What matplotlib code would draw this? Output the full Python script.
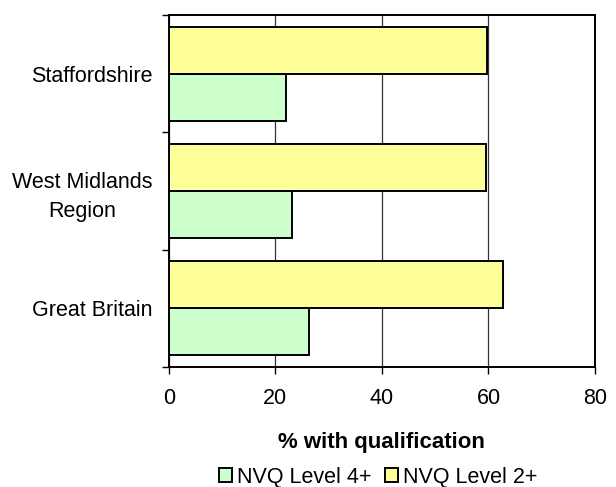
import matplotlib
matplotlib.use("Agg")
import matplotlib.pyplot as plt
import numpy as np

categories = ["Great Britain", "West Midlands\nRegion", "Staffordshire"]
nvq4 = [26.4, 23.1, 22.0]
nvq2 = [62.8, 59.5, 59.8]
series_labels = ["NVQ Level 4+", "NVQ Level 2+"]
xticks = [0, 20, 40, 60, 80]

plt.rcParams['font.family'] = ['Liberation Sans', 'DejaVu Sans']

fig = plt.figure(figsize=(6.16, 4.87), dpi=100)
ax = fig.add_axes([0.274, 0.247, 0.692, 0.722])

y = np.arange(len(categories))
h = 0.4
ax.set_axisbelow(True)
ax.xaxis.grid(True, color='#333333', linewidth=0.9)
b4 = ax.barh(y - h/2, nvq4, height=h, color='#CCFFCC', edgecolor='black', linewidth=1.4, label=series_labels[0])
b2 = ax.barh(y + h/2, nvq2, height=h, color='#FFFF99', edgecolor='black', linewidth=1.4, label=series_labels[1])

ax.set_xlim(0, 80)
ax.set_ylim(-0.5, 2.5)
ax.set_xticks(xticks)
ax.set_xticklabels([str(v) for v in xticks], fontsize=15.5)
ax.set_yticks(y)
ax.set_yticklabels(categories, fontsize=15.5, multialignment='center', linespacing=1.45)
ax.set_yticks(np.arange(-0.5, len(categories), 1.0), minor=True)
ax.tick_params(axis='y', which='major', length=0, pad=12)
ax.tick_params(axis='y', which='minor', length=5, width=1, direction='out')
ax.tick_params(axis='x', which='major', length=5, width=1, direction='out', pad=10)

for s in ax.spines.values():
    s.set_linewidth(1.4)
    s.set_color('black')

ax.set_xlabel("% with qualification", fontsize=16, fontweight='bold', labelpad=17)

fig.legend(handles=[b4, b2], labels=series_labels, loc='center', bbox_to_anchor=(0.614, 0.02),
           ncol=2, frameon=False, fontsize=15.5, handlelength=0.6, handleheight=0.6,
           handletextpad=0.25, columnspacing=0.6, borderpad=0)

fig.savefig("out.png", dpi=100)
